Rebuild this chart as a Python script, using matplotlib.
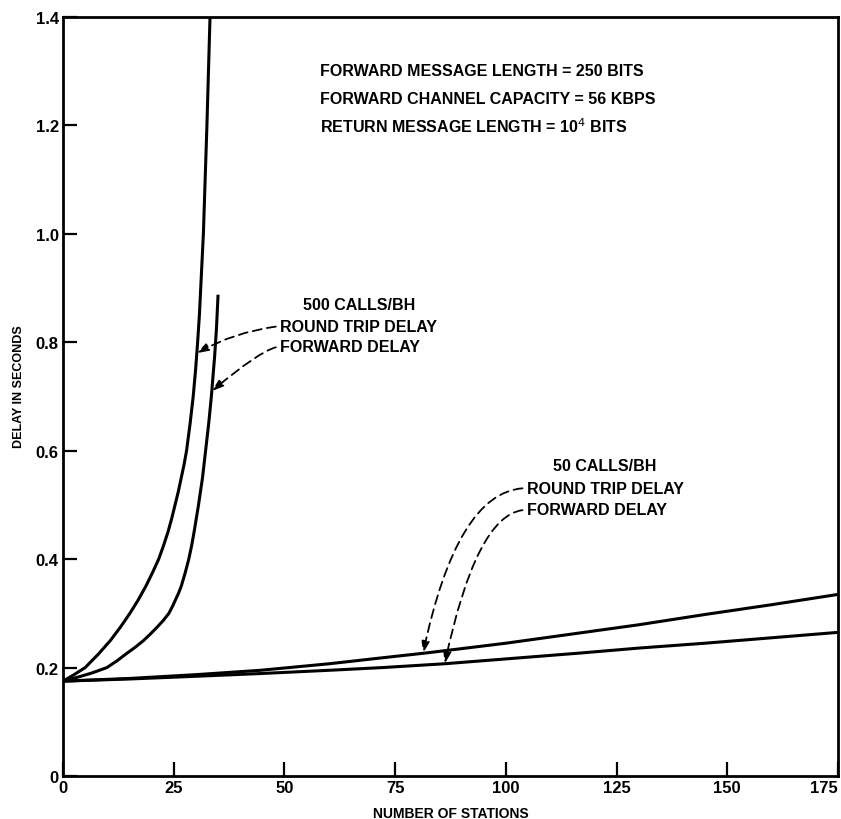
import numpy as np
import matplotlib
matplotlib.use("Agg")
import matplotlib.pyplot as plt

plt.rcParams['font.family'] = ['Liberation Sans', 'DejaVu Sans']

# 500 calls per busy hour
rt500_x = [0, 2.6, 5, 8, 10.7, 13, 15.1, 17, 18.7, 20.2, 21.6, 22.7, 23.7, 24.55, 25.3, 26.05, 26.7,
           27.35, 27.9, 28.7, 29.4, 29.95, 30.4, 30.8, 31.1, 31.4, 31.7, 32.1, 32.5, 32.85, 33.2]
rt500_y = [0.175, 0.1875, 0.2, 0.225, 0.25, 0.275, 0.3, 0.325, 0.35, 0.375, 0.4, 0.425, 0.45, 0.475, 0.5, 0.525, 0.55,
           0.575, 0.6, 0.65, 0.7, 0.75, 0.8, 0.85, 0.9, 0.95, 1.0, 1.1, 1.2, 1.3, 1.4]
fw500_x = [0, 3.4, 6.5, 9.9, 12.2, 14.2, 16.3, 18.2, 19.8, 21.3, 22.7, 23.9, 24.7, 25.4, 26.1, 26.7, 27.6, 28.4,
           29.05, 29.6, 30.1, 30.6, 31.05, 31.5, 31.85, 32.2, 32.55, 32.9, 33.2, 33.5, 33.75, 34.0, 34.25, 34.45,
           34.65, 34.8, 34.9, 35.0]
fw500_y = [0.175, 0.1825, 0.19, 0.2, 0.2125, 0.225, 0.2375, 0.25, 0.2625, 0.275, 0.2875, 0.3, 0.3125, 0.325,
           0.3375, 0.35, 0.375, 0.4, 0.425, 0.45, 0.475, 0.5, 0.525, 0.55, 0.575, 0.6, 0.625, 0.65, 0.675, 0.7,
           0.725, 0.75, 0.775, 0.8, 0.825, 0.85, 0.8675, 0.885]

# 50 calls per busy hour
rt50_x = [0, 15, 30, 44.5, 60, 72, 82, 100, 115, 130, 145, 160, 175]
rt50_y = [0.175, 0.18, 0.187, 0.195, 0.207, 0.218, 0.227, 0.245, 0.262, 0.279, 0.298, 0.316, 0.335]
fw50_x = [0, 15, 30, 44.5, 60, 72, 86, 100, 117, 130, 145, 160, 175]
fw50_y = [0.175, 0.179, 0.184, 0.189, 0.195, 0.2, 0.207, 0.216, 0.227, 0.236, 0.245, 0.255, 0.265]

xticks = [0, 25, 50, 75, 100, 125, 150, 175]
yticks = [0, 0.2, 0.4, 0.6, 0.8, 1.0, 1.2, 1.4]
ytick_labels = ['0', '0.2', '0.4', '0.6', '0.8', '1.0', '1.2', '1.4']

notes = ['FORWARD MESSAGE LENGTH = 250 BITS',
         'FORWARD CHANNEL CAPACITY = 56 KBPS',
         'RETURN MESSAGE LENGTH = 10$^{4}$ BITS']

fig = plt.figure(figsize=(8.41, 8.20), dpi=100)
ax = fig.add_axes([0.0749, 0.0524, 0.9215, 0.9256])

lw = 2.2
for xs, ys in [(rt500_x, rt500_y), (fw500_x, fw500_y), (rt50_x, rt50_y), (fw50_x, fw50_y)]:
    ax.plot(xs, ys, color='black', lw=lw, solid_joinstyle='round')

ax.set_xlim(0, 175)
ax.set_ylim(0, 1.4)
ax.set_xticks(xticks)
ax.set_xticklabels([str(t) for t in xticks])
ax.set_yticks(yticks)
ax.set_yticklabels(ytick_labels)
ax.tick_params(direction='in', length=10, width=1.6, labelsize=12, pad=3)
for lab in ax.get_xticklabels() + ax.get_yticklabels():
    lab.set_fontweight('bold')
# last x label sits flush with the right edge
ax.get_xticklabels()[-1].set_horizontalalignment('right')
for sp in ax.spines.values():
    sp.set_linewidth(2.0)

ax.set_xlabel('NUMBER OF STATIONS', fontsize=10, fontweight='bold', labelpad=8)
ax.set_ylabel('DELAY IN SECONDS', fontsize=9, fontweight='bold')
ax.yaxis.set_label_coords(-0.049, 0.515)

# parameter block
for i, s in enumerate(notes):
    ax.text(0.332, 0.929 - i * 0.036, s, transform=ax.transAxes, fontsize=11.5,
            fontweight='bold', ha='left', va='center')

dash = (0, (5, 3))
txt_kw = dict(fontsize=11.5, fontweight='bold', va='center')

def pointer(label, xy, xytext, style):
    ax.annotate(label, xy=xy, xytext=xytext, ha='left', **txt_kw,
                arrowprops=dict(arrowstyle='-|>,head_length=0.6,head_width=0.2',
                                linestyle=dash, lw=1.3, color='black',
                                connectionstyle=style, relpos=(0, 0.5),
                                shrinkA=1, shrinkB=0))

# 500 calls/BH labels
ax.text(66.8, 0.869, '500 CALLS/BH', ha='center', **txt_kw)
y_rt = 0.78
pointer('ROUND TRIP DELAY', (np.interp(y_rt, rt500_y, rt500_x), y_rt), (49, 0.830), 'arc3,rad=0.1')
y_fw = 0.71
pointer('FORWARD DELAY', (np.interp(y_fw, fw500_y, fw500_x), y_fw), (49, 0.792), 'angle3,angleA=0,angleB=40')

# 50 calls/BH labels
ax.text(122.3, 0.572, '50 CALLS/BH', ha='center', **txt_kw)
x_rt = 81.3
pointer('ROUND TRIP DELAY', (x_rt, np.interp(x_rt, rt50_x, rt50_y)), (104.7, 0.531), 'angle3,angleA=0,angleB=78')
x_fw = 86.2
pointer('FORWARD DELAY', (x_fw, np.interp(x_fw, fw50_x, fw50_y)), (104.7, 0.491), 'angle3,angleA=0,angleB=78')

fig.savefig('out.png', dpi=100)
